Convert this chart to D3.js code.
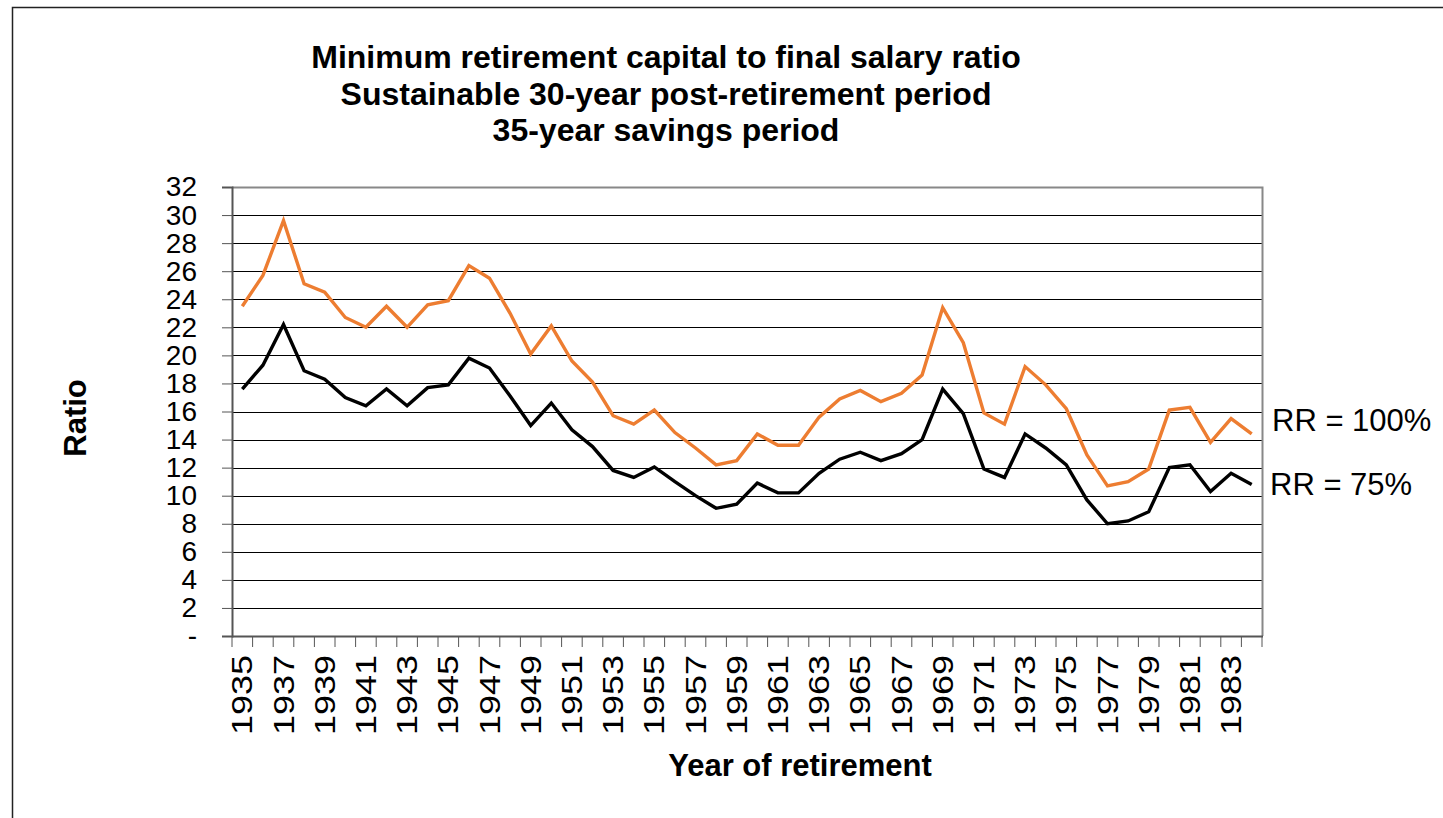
<!DOCTYPE html>
<meta charset="utf-8">
<head>
<title>Minimum retirement capital to final salary ratio</title>
<style>
body { margin: 0; background: #fff; }
text { font-family: "Liberation Sans", Arial, sans-serif; fill: #000; }
.grid line { stroke: #000; stroke-width: 1px; }
.axis path, .axis line { stroke: #555; }
</style>
</head>
<body>
<script src="https://d3js.org/d3.v7.min.js"></script>
<div id="chart"></div>
<script>

// years of retirement
var years = d3.range(1935, 1985);

// RR = 100%
var rr100 = [23.5, 25.7, 29.6, 25.1, 24.5, 22.7, 22.0, 23.5, 22.0, 23.6,
             23.9, 26.4, 25.5, 23.0, 20.1, 22.1, 19.6, 18.1, 15.7, 15.1,
             16.1, 14.5, 13.4, 12.2, 12.5, 14.4, 13.6, 13.6, 15.6, 16.9,
             17.5, 16.7, 17.3, 18.6, 23.4, 20.9, 15.9, 15.1, 19.2, 17.9,
             16.2, 12.9, 10.7, 11.0, 11.9, 16.1, 16.3, 13.8, 15.5, 14.4];

// RR = 75%
var rr75 = [17.6, 19.3, 22.2, 18.9, 18.3, 17.0, 16.4, 17.6, 16.4, 17.7,
            17.9, 19.8, 19.1, 17.1, 15.0, 16.6, 14.7, 13.5, 11.8, 11.3,
            12.05, 11.0, 10.0, 9.1, 9.4, 10.9, 10.2, 10.2, 11.6, 12.6,
            13.1, 12.5, 13.0, 14.0, 17.6, 15.85, 11.9, 11.3, 14.4, 13.4,
            12.2, 9.7, 8.0, 8.2, 8.85, 12.0, 12.2, 10.3, 11.6, 10.8];

var yTicks = d3.range(0, 33, 2);

var titleLines = ["Minimum retirement capital to final salary ratio",
                  "Sustainable 30-year post-retirement period",
                  "35-year savings period"];

var width = 1443,
    height = 818;

var margin = {left: 232, top: 187, right: 1262, bottom: 636};

var svg = d3.select('#chart').append('svg')
    .attr('width', width)
    .attr('height', height);

// outer chart border (only top and left visible)
svg.append('rect')
    .attr('x', 12.5).attr('y', 7.5)
    .attr('width', 1600).attr('height', 1000)
    .attr('fill', 'none')
    .attr('stroke', '#222')
    .attr('stroke-width', 1.5);

var x = d3.scaleBand()
    .domain(years)
    .range([margin.left, margin.right]);

var y = d3.scaleLinear()
    .domain([0, 32])
    .range([margin.bottom, margin.top]);

// gridlines
svg.append('g').attr('class', 'grid')
  .selectAll('line')
  .data(yTicks.filter(function (d) { return d > 0 && d < 32; }))
  .enter().append('line')
    .attr('x1', margin.left).attr('x2', margin.right)
    .attr('y1', function (d) { return Math.round(y(d)) + 0.5; })
    .attr('y2', function (d) { return Math.round(y(d)) + 0.5; });

// top & right border of plot area
svg.append('path')
    .attr('d', 'M' + margin.left + ',' + (margin.top + 0.5) + 'H' + (margin.right + 0.5) + 'V' + margin.bottom)
    .attr('fill', 'none')
    .attr('stroke', '#888')
    .attr('stroke-width', 2);

// y axis
var yAxis = svg.append('g')
    .attr('class', 'axis')
    .attr('transform', 'translate(' + margin.left + ',0)')
    .call(d3.axisLeft(y)
      .tickValues(yTicks)
      .tickSize(10)
      .tickPadding(25)
      .tickFormat(function (d) { return d === 0 ? '-' : d; }));
yAxis.select('.domain').attr('stroke-width', 2);
yAxis.selectAll('text')
    .style('font-size', '28px')
    .style('font-family', '"Liberation Sans", Arial, sans-serif')
    .attr('fill', '#000');

// x axis: ticks between categories
var xAxisG = svg.append('g')
    .attr('class', 'axis')
    .attr('transform', 'translate(0,' + margin.bottom + ')');
xAxisG.append('path')
    .attr('d', 'M' + margin.left + ',0.5H' + (margin.right + 1))
    .attr('stroke', '#555')
    .attr('stroke-width', 2);
xAxisG.selectAll('line.tick')
  .data(years.concat([1985]))
  .enter().append('line')
    .attr('class', 'tick')
    .attr('x1', function (d) { return d === 1985 ? margin.right : x(d); })
    .attr('x2', function (d) { return d === 1985 ? margin.right : x(d); })
    .attr('y1', 0).attr('y2', 11)
    .attr('stroke', '#555');
xAxisG.selectAll('text')
  .data(years.filter(function (d) { return (d - 1935) % 2 === 0; }))
  .enter().append('text')
    .attr('transform', function (d) {
      return 'translate(' + (x(d) + x.bandwidth() / 2 + 10) + ',19) rotate(-90) scale(1.2,1)';
    })
    .attr('text-anchor', 'end')
    .style('font-size', '30px')
    .text(function (d) { return d; });

// lines
var line = function (vals) {
  return d3.line()
    .x(function (d, i) { return x(years[i]) + x.bandwidth() / 2; })
    .y(function (d) { return y(d); })(vals);
};

svg.append('path')
    .attr('d', line(rr100))
    .attr('fill', 'none')
    .attr('stroke', '#ED7D31')
    .attr('stroke-width', 3.4)
    .attr('stroke-linejoin', 'miter');

svg.append('path')
    .attr('d', line(rr75))
    .attr('fill', 'none')
    .attr('stroke', '#000')
    .attr('stroke-width', 3.4)
    .attr('stroke-linejoin', 'miter');

// series labels
svg.append('text')
    .attr('x', 1272).attr('y', 431)
    .style('font-size', '31px')
    .text('RR = 100%');
svg.append('text')
    .attr('x', 1270).attr('y', 495)
    .style('font-size', '31px')
    .text('RR = 75%');

// title
svg.append('g').selectAll('text')
  .data(titleLines)
  .enter().append('text')
    .attr('x', 666)
    .attr('y', function (d, i) { return 68 + i * 36.5; })
    .attr('text-anchor', 'middle')
    .style('font-size', '32px')
    .style('font-weight', 'bold')
    .text(function (d) { return d; });

// axis titles
svg.append('text')
    .attr('transform', 'translate(86,418) rotate(-90)')
    .attr('text-anchor', 'middle')
    .style('font-size', '31px')
    .style('font-weight', 'bold')
    .text('Ratio');

svg.append('text')
    .attr('x', 800).attr('y', 776)
    .attr('text-anchor', 'middle')
    .style('font-size', '31px')
    .style('font-weight', 'bold')
    .text('Year of retirement');

</script>
</body>
